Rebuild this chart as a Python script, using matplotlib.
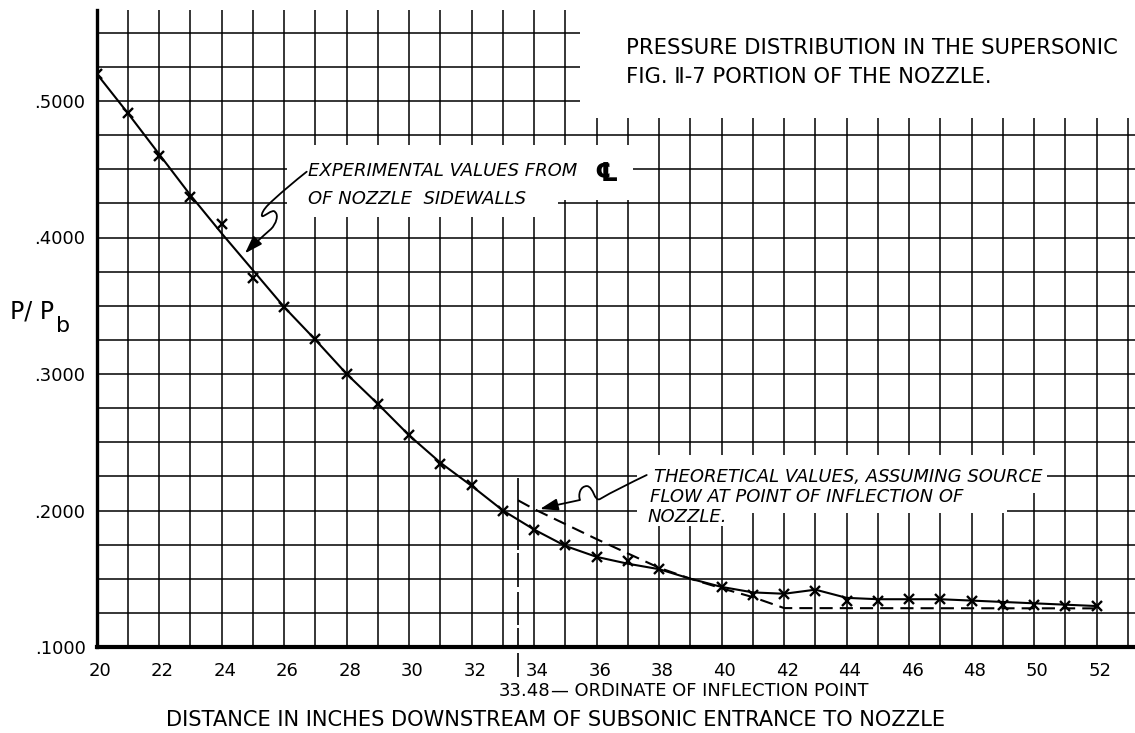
import matplotlib
matplotlib.use("Agg")
import matplotlib.pyplot as plt
from matplotlib.patches import Rectangle, FancyArrowPatch
from matplotlib.path import Path
from matplotlib.ticker import MultipleLocator, FuncFormatter
from matplotlib.transforms import ScaledTranslation

# ---------------------------------------------------------------- data
# experimental pressure ratio readings (x marks), inches downstream
exp_x = [20, 21, 22, 23, 24, 25, 26, 27, 28, 29, 30, 31, 32, 33, 34, 35, 36,
         37, 38, 40, 41, 42, 43, 44, 45, 46, 47, 48, 49, 50, 51, 52]
exp_y = [0.520, 0.491, 0.460, 0.430, 0.410, 0.370, 0.349, 0.326, 0.300, 0.278,
         0.255, 0.234, 0.219, 0.200, 0.186, 0.175, 0.166, 0.163, 0.157, 0.144,
         0.138, 0.139, 0.141, 0.134, 0.134, 0.135, 0.135, 0.134, 0.131, 0.131,
         0.130, 0.130]

# faired curve drawn through the experimental points
faired_x = list(range(20, 53))
faired_y = [0.520, 0.491, 0.461, 0.431, 0.403, 0.376, 0.349, 0.325, 0.300,
            0.278, 0.255, 0.235, 0.218, 0.200, 0.186, 0.174, 0.166, 0.161,
            0.157, 0.150, 0.144, 0.140, 0.139, 0.142, 0.136, 0.135, 0.135,
            0.135, 0.134, 0.133, 0.132, 0.131, 0.130]

# theoretical source-flow values from the inflection point on
theory_x = [33.48, 34, 35, 36, 37, 38, 39, 40, 41, 42, 52]
theory_y = [0.2075, 0.201, 0.190, 0.179, 0.1685, 0.158, 0.150, 0.143,
            0.1365, 0.1285, 0.1283]

inflection_x = 33.48

x_ticks = list(range(20, 53, 2))
y_ticks = [0.1, 0.2, 0.3, 0.4, 0.5]

# ---------------------------------------------------------------- figure
plt.rcParams["font.family"] = ["DejaVu Sans"]

W, H = 1135, 733
fig = plt.figure(figsize=(W / 100, H / 100), dpi=100)
ax = fig.add_axes([96.7 / W, 86 / H, 1 - 96.7 / W, (647 - 10) / H])
ax.set_xlim(20, 20 + (W - 96.7) / 31.25)
ax.set_ylim(0.1, 0.1 + 637 / 1365)


def fx(px):
    return px / W


def fy(py):
    return 1 - py / H


# ---------------------------------------------------------------- grid
ax.set_xticks(x_ticks)
ax.set_xticklabels([str(t) for t in x_ticks])
ax.set_yticks(y_ticks)
ax.yaxis.set_major_formatter(FuncFormatter(lambda v, p: f"{v:.4f}"[1:]))
ax.xaxis.set_minor_locator(MultipleLocator(1))
ax.yaxis.set_minor_locator(MultipleLocator(0.025))
ax.tick_params(which="both", length=0, labelsize=13)
ax.tick_params(axis="x", pad=11)
ax.tick_params(axis="y", pad=8)
nudge = ScaledTranslation(3 / 100, 0, fig.dpi_scale_trans)
for lab in ax.get_xticklabels():
    lab.set_transform(lab.get_transform() + nudge)
ax.grid(which="both", color="black", lw=1.1)
ax.set_axisbelow(True)

for s in ("top", "right"):
    ax.spines[s].set_visible(False)
ax.spines["left"].set_linewidth(2.4)
ax.spines["bottom"].set_linewidth(3.0)

# white panels where lettering interrupts the grid
blanks = [
    (35.47, 0.4875, 18.0, 0.10),     # title block
    (26.09, 0.4150, 8.68, 0.0528),   # experimental note
    (34.77, 0.4275, 2.39, 0.0403),
    (37.39, 0.2128, 13.02, 0.0279),  # theoretical note
    (37.29, 0.1982, 11.84, 0.0425),
    (37.29, 0.1886, 3.29, 0.0521),
]
for x0, y0, w, h in blanks:
    ax.add_patch(Rectangle((x0, y0), w, h, facecolor="white",
                           edgecolor="none", zorder=1))

# ---------------------------------------------------------------- curves
ax.plot(faired_x, faired_y, color="black", lw=1.5, zorder=3)
ax.plot(exp_x, exp_y, ls="none", marker="x", ms=7, mew=1.7,
        color="black", zorder=4)
ax.plot(theory_x, theory_y, color="black", lw=1.5, dashes=(6.3, 3.4),
        zorder=3)

# ordinate of the inflection point
seg_lo = [0.1711, 0.1440, 0.1161, 0.1000]
seg_hi = [0.2238, 0.1689, 0.1403, 0.1139]
ax.vlines([inflection_x] * len(seg_lo), seg_lo, seg_hi,
          color="black", lw=1.2, zorder=3)
ax.vlines([inflection_x], [0.078], [0.0956], color="black", lw=1.2,
          clip_on=False, zorder=3)

# ---------------------------------------------------------------- leaders
def leader(verts):
    codes = [Path.MOVETO] + [Path.CURVE4] * (len(verts) - 1)
    arrow = FancyArrowPatch(path=Path(verts, codes),
                            arrowstyle="-|>,head_length=0.9,head_width=0.3",
                            mutation_scale=12, color="black", lw=1.3,
                            zorder=5)
    ax.add_patch(arrow)


leader([(26.72, 0.4482),
        (26.346, 0.4414), (25.802, 0.4311), (25.482, 0.4238),
        (25.354, 0.4209), (25.258, 0.4172), (25.290, 0.4158),
        (25.322, 0.4143), (25.642, 0.4216), (25.706, 0.4187),
        (25.834, 0.4165), (25.738, 0.4099), (25.578, 0.4062),
        (25.290, 0.4004), (24.970, 0.3938), (24.746, 0.3884)])

leader([(37.60, 0.2260),
        (37.066, 0.2201), (36.490, 0.2136), (36.106, 0.2084),
        (35.914, 0.2062), (35.914, 0.2172), (35.690, 0.2179),
        (35.466, 0.2179), (35.402, 0.2114), (35.466, 0.2077),
        (35.018, 0.2055), (34.570, 0.2033), (34.186, 0.2011)])

# ---------------------------------------------------------------- lettering
fig.text(fx(626), fy(48), "PRESSURE DISTRIBUTION IN THE SUPERSONIC",
         fontsize=15.2, ha="left", va="center")
fig.text(fx(626), fy(77), "FIG. \u2161-7 PORTION OF THE NOZZLE.",
         fontsize=15.2, ha="left", va="center")

fig.text(fx(308), fy(171.5), "EXPERIMENTAL VALUES FROM",
         style="italic", fontsize=13, ha="left", va="center")
fig.text(fx(308), fy(198.5), "OF NOZZLE  SIDEWALLS",
         style="italic", fontsize=13, ha="left", va="center")
fig.text(fx(594), fy(174), "\u2104", fontsize=19, fontweight="bold",
         ha="left", va="center")

fig.text(fx(654), fy(477), "THEORETICAL VALUES, ASSUMING SOURCE",
         style="italic", fontsize=13, ha="left", va="center")
fig.text(fx(650), fy(497), "FLOW AT POINT OF INFLECTION OF",
         style="italic", fontsize=13, ha="left", va="center")
fig.text(fx(648), fy(517), "NOZZLE.",
         style="italic", fontsize=13, ha="left", va="center")

fig.text(fx(499), fy(691), f"{inflection_x:.2f}", fontsize=13,
         ha="left", va="center")
fig.text(fx(551), fy(691), "\u2014 ORDINATE OF INFLECTION POINT",
         fontsize=12.9, ha="left", va="center")

fig.text(fx(556), fy(720),
         "DISTANCE IN INCHES DOWNSTREAM OF SUBSONIC ENTRANCE TO NOZZLE",
         fontsize=15.1, ha="center", va="center")

fig.text(fx(10), fy(311), "P/ P", fontsize=17, ha="left", va="center")
fig.text(fx(56), fy(326), "b", fontsize=16, ha="left", va="center")

fig.savefig("out.png", dpi=100, facecolor="white")
